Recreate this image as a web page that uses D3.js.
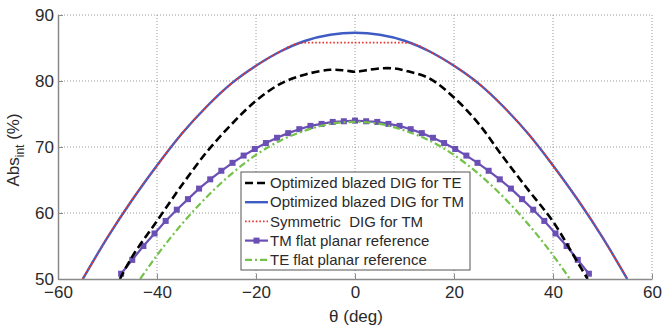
<!DOCTYPE html>
<html>
<head>
<meta charset="utf-8">
<script src="https://cdn.jsdelivr.net/npm/d3@7"></script>
<style>
	body { margin: 0; background: #fff; }
	svg { display: block; }
	text { font-family: "Liberation Sans", Arial, sans-serif; fill: #2a2a2a; white-space: pre; }
</style>
</head>
<body>
<svg width="663" height="327"></svg>
<script>
// Data (theta in deg, absorption in %)
const xTicks = [-60, -40, -20, 0, 20, 40, 60];
const yTicks = [50, 60, 70, 80, 90];

const thetaTeBlazed = [-47.5, -45, -40, -35, -30, -25, -20, -15, -10, -5, -2, 0, 2, 5, 8, 10, 15, 20, 25, 30, 35, 40, 45, 47];
const absTeBlazed = [50, 53.4, 58.8, 64.2, 69.2, 73.4, 77.0, 79.6, 81.0, 81.7, 81.6, 81.4, 81.6, 81.9, 81.9, 81.6, 80.4, 77.5, 73.5, 68.4, 63.5, 58.7, 52.5, 50];

const thetaTmBlazed = [-55, -50, -45, -40, -35, -30, -25, -20, -15, -10, -5, 0, 5, 10, 15, 20, 25, 30, 35, 40, 45, 50, 55];
const absTmBlazed = [50, 56.3, 62.0, 67.2, 72.0, 76.1, 79.6, 82.3, 84.5, 86.1, 87.0, 87.3, 87.0, 86.1, 84.5, 82.3, 79.6, 76.1, 72.0, 67.2, 62.0, 56.3, 50];

const thetaTmSym = [-55, -50, -45, -40, -35, -30, -25, -20, -15, -12, -10, -5, 0, 5, 10, 12, 15, 20, 25, 30, 35, 40, 45, 50, 55];
const absTmSym = [50, 56.3, 62.0, 67.2, 72.0, 76.1, 79.6, 82.3, 84.5, 85.6, 85.8, 85.8, 85.8, 85.8, 85.8, 85.6, 84.5, 82.3, 79.6, 76.1, 72.0, 67.2, 62.0, 56.3, 50];

const thetaTmFlat = [-47.25, -45, -42.75, -40.5, -38.25, -36, -33.75, -31.5, -29.25, -27, -24.75, -22.5, -20.25, -18, -15.75, -13.5, -11.25, -9, -6.75, -4.5, -2.25,
	0, 2.25, 4.5, 6.75, 9, 11.25, 13.5, 15.75, 18, 20.25, 22.5, 24.75, 27, 29.25, 31.5, 33.75, 36, 38.25, 40.5, 42.75, 45, 47.25];
const absTmFlat = [50.8, 52.9, 55.0, 56.9, 58.8, 60.5, 62.1, 63.7, 65.1, 66.4, 67.6, 68.7, 69.7, 70.6, 71.4, 72.1, 72.7, 73.2, 73.5, 73.8, 73.9,
	74.0, 73.9, 73.8, 73.5, 73.2, 72.7, 72.1, 71.4, 70.6, 69.7, 68.7, 67.6, 66.4, 65.1, 63.7, 62.1, 60.5, 58.8, 56.9, 55.0, 52.9, 50.8];

const thetaTeFlat = [-43.4, -40, -35, -30, -25, -20, -15, -10, -5, 0, 5, 10, 15, 20, 25, 30, 35, 40, 43.4];
const absTeFlat = [50, 53.6, 58.3, 62.4, 65.9, 68.8, 71.0, 72.5, 73.5, 73.8, 73.5, 72.5, 71.0, 68.8, 65.9, 62.4, 58.3, 53.6, 50];

const legendLabels = ["Optimized blazed DIG for TE", "Optimized blazed DIG for TM", "Symmetric  DIG for TM",
	"TM flat planar reference", "TE flat planar reference"];

// Layout
const svg = d3.select("svg");
const plotLeft = 58, plotRight = 652, plotTop = 15, plotBottom = 279;

const x = d3.scaleLinear().domain([-60, 60]).range([plotLeft, plotRight]);
const y = d3.scaleLinear().domain([50, 90]).range([plotBottom, plotTop]);

// Series styles, in legend order
const series = [
	{th: thetaTeBlazed, v: absTeBlazed, color: "#000000", width: 2.6, dash: "8,4", curve: d3.curveCatmullRom},
	{th: thetaTmBlazed, v: absTmBlazed, color: "#3f5cc4", width: 2.4, dash: null, curve: d3.curveMonotoneX},
	{th: thetaTmSym, v: absTmSym, color: "#e8352e", width: 1.8, dash: "1.6,2", curve: d3.curveMonotoneX},
	{th: thetaTmFlat, v: absTmFlat, color: "#6a4fb5", width: 2.2, dash: null, curve: d3.curveLinear, marker: true},
	{th: thetaTeFlat, v: absTeFlat, color: "#74c24a", width: 2.2, dash: "7,3,2,3", curve: d3.curveMonotoneX}
];

draw_grid();
draw_series();
draw_axes();
draw_legend();

/**
 * Dotted grid lines plus the top and right frame
 */
function draw_grid(){
	const g = svg.append("g");
	g.selectAll("line.gx")
	 .data(xTicks.slice(1))
	 .enter()
	 .append("line")
	 .attr("x1", d => x(d)).attr("x2", d => x(d))
	 .attr("y1", plotTop).attr("y2", plotBottom)
	 .attr("stroke", "#9a9a9a")
	 .attr("stroke-width", 1)
	 .attr("stroke-dasharray", "1,2");
	g.selectAll("line.gy")
	 .data(yTicks.slice(1))
	 .enter()
	 .append("line")
	 .attr("x1", plotLeft).attr("x2", plotRight)
	 .attr("y1", d => y(d)).attr("y2", d => y(d))
	 .attr("stroke", "#9a9a9a")
	 .attr("stroke-width", 1)
	 .attr("stroke-dasharray", "1,2");
}

/**
 * The five curves, clipped to the plot area
 */
function draw_series(){
	svg.append("clipPath").attr("id", "plot-clip")
	   .append("rect")
	   .attr("x", plotLeft).attr("y", plotTop - 2)
	   .attr("width", plotRight - plotLeft).attr("height", plotBottom - plotTop + 2);

	const g = svg.append("g").attr("clip-path", "url(#plot-clip)");
	// draw blue before red so the dotted red sits on top, black above all
	const order = [3, 4, 1, 2, 0];
	order.forEach(function(i){
		const s = series[i];
		const pts = s.th.map((t, k) => [t, s.v[k]]);
		const line = d3.line().x(d => x(d[0])).y(d => y(d[1])).curve(s.curve);
		g.append("path")
		 .attr("d", line(pts))
		 .attr("fill", "none")
		 .attr("stroke", s.color)
		 .attr("stroke-width", s.width)
		 .attr("stroke-dasharray", s.dash);
		if (s.marker){
			g.selectAll("rect.m")
			 .data(pts)
			 .enter()
			 .append("rect")
			 .attr("x", d => x(d[0]) - 3)
			 .attr("y", d => y(d[1]) - 3)
			 .attr("width", 6).attr("height", 6)
			 .attr("fill", s.color);
		}
	});
}

/**
 * Left and bottom axes with labels
 */
function draw_axes(){
	const xAxis = d3.axisBottom(x).tickValues(xTicks).tickSizeInner(-5).tickSizeOuter(0).tickPadding(10);
	const yAxis = d3.axisLeft(y).tickValues(yTicks).tickSizeInner(-5).tickSizeOuter(0).tickPadding(4);

	const gx = svg.append("g").attr("transform", `translate(0,${plotBottom})`).call(xAxis);
	const gy = svg.append("g").attr("transform", `translate(${plotLeft},0)`).call(yAxis);
	[gx, gy].forEach(function(g){
		g.select(".domain").attr("stroke", "#8a8a8a").attr("stroke-width", 1.5);
		g.selectAll(".tick line").attr("stroke", "#8a8a8a");
		g.selectAll(".tick text")
		 .attr("font-size", 17)
		 .attr("font-family", "Liberation Sans, Arial, sans-serif")
		 .attr("fill", "#2a2a2a");
	});
	gx.selectAll(".tick text").attr("dy", "0.55em");
	gy.selectAll(".tick text").attr("dy", "0.33em");

	// x label
	svg.append("text")
	   .attr("x", 356).attr("y", 322)
	   .attr("text-anchor", "middle")
	   .attr("font-size", 17)
	   .text("\u03b8 (deg)");

	// y label with subscript
	const yl = svg.append("text")
	   .attr("transform", "translate(19,150) rotate(-90)")
	   .attr("text-anchor", "middle")
	   .attr("font-size", 17);
	yl.append("tspan").text("Abs");
	yl.append("tspan").attr("font-size", 12).attr("dy", 5).text("int");
	yl.append("tspan").attr("dy", -5).text(" (%)");
}

/**
 * Legend box with line samples
 */
function draw_legend(){
	const lx = 241, ly = 172, lw = 229, lh = 98, row = 19.2;
	const g = svg.append("g");
	g.append("rect")
	 .attr("x", lx).attr("y", ly)
	 .attr("width", lw).attr("height", lh)
	 .attr("fill", "#fff")
	 .attr("stroke", "#555")
	 .attr("stroke-width", 1);

	series.forEach(function(s, i){
		const cy = ly + 11 + i * row;
		g.append("line")
		 .attr("x1", lx + 4).attr("x2", lx + 27)
		 .attr("y1", cy).attr("y2", cy)
		 .attr("stroke", s.color)
		 .attr("stroke-width", s.width)
		 .attr("stroke-dasharray", s.dash);
		if (s.marker){
			g.append("rect")
			 .attr("x", lx + 12.5).attr("y", cy - 3)
			 .attr("width", 6).attr("height", 6)
			 .attr("fill", s.color);
		}
		g.append("text")
		 .attr("x", lx + 29).attr("y", cy)
		 .attr("dy", "0.35em")
		 .attr("font-size", 15)
		 .text(legendLabels[i]);
	});
}
</script>
</body>
</html>
